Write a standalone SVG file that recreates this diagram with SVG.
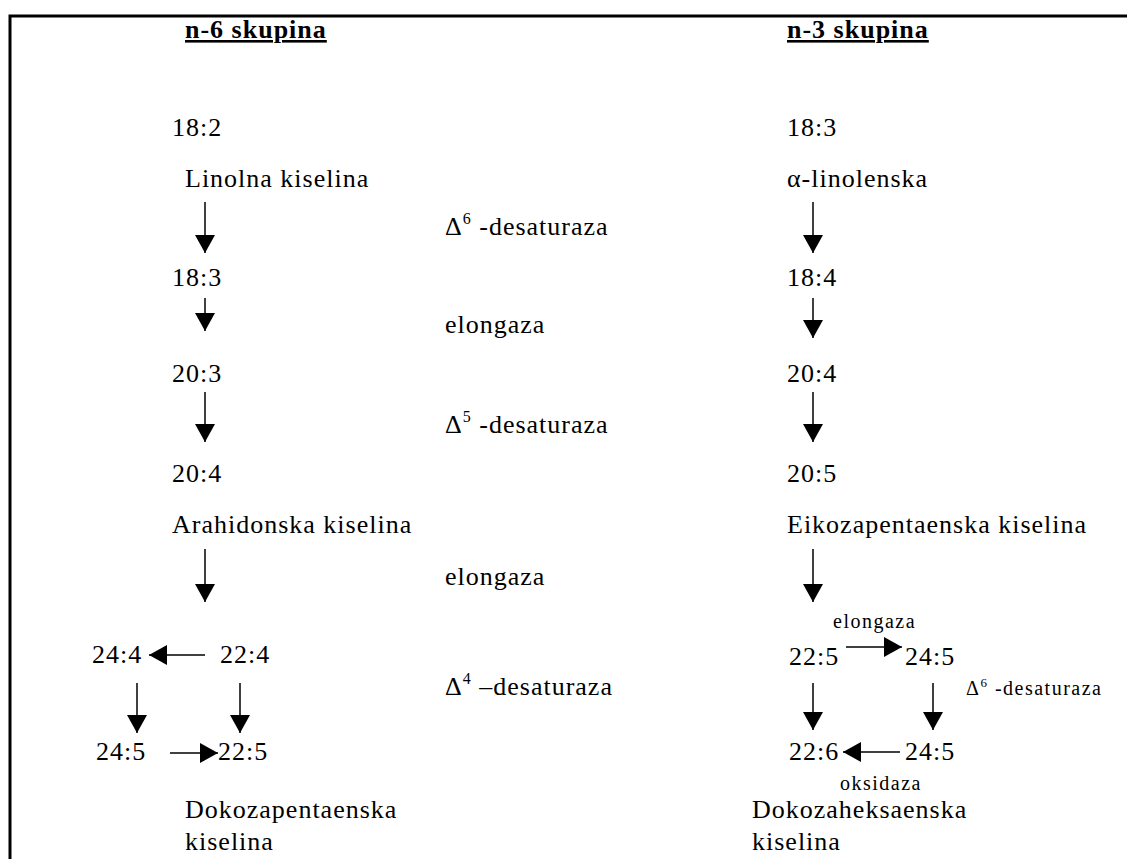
<svg xmlns="http://www.w3.org/2000/svg" width="1127" height="859" viewBox="0 0 1127 859">
<defs>
<style>
.t{font-family:"Liberation Serif","Times New Roman",serif;font-size:26px;letter-spacing:1px;fill:#000}
.s{font-family:"Liberation Serif","Times New Roman",serif;font-size:20px;letter-spacing:1.5px;fill:#000}
.h{font-family:"Liberation Serif","Times New Roman",serif;font-size:26px;letter-spacing:1px;font-weight:bold;fill:#000;text-decoration:underline}
.sup{font-size:16px}
.c{stroke:#000;stroke-width:1.5;fill:none;marker-end:url(#ah)}
</style>
<marker id="ah" viewBox="0 0 18 20" refX="18" refY="10" markerWidth="18" markerHeight="20" markerUnits="userSpaceOnUse" orient="auto">
<path d="M0,0 L18,10 L0,20 Z" fill="#000"/>
</marker>
</defs>
<rect width="1127" height="859" fill="#fff"/>
<path d="M10,859 L10,16 L1127,16" stroke="#000" stroke-width="3" fill="none"/>

<g id="titles">
<text id="n6" class="h" x="185" y="38">n-6 skupina</text>
<text id="n3" class="h" x="787" y="38">n-3 skupina</text>
</g>

<g id="enzymes">
<text id="e1" class="t" x="445" y="235">Δ<tspan class="sup" dy="-11">6</tspan><tspan dy="11"> -desaturaza</tspan></text>
<text id="e2" class="t" x="445" y="333">elongaza</text>
<text id="e3" class="t" x="445" y="433">Δ<tspan class="sup" dy="-11">5</tspan><tspan dy="11"> -desaturaza</tspan></text>
<text id="e4" class="t" x="445" y="585">elongaza</text>
<text id="e5" class="t" x="445" y="695">Δ<tspan class="sup" dy="-11">4</tspan><tspan dy="11"> –desaturaza</tspan></text>
</g>

<g id="n6-nodes">
<text id="a1" class="t" x="172" y="136">18:2</text>
<text id="a1n" class="t" x="185" y="187">Linolna kiselina</text>
<text id="a2" class="t" x="172" y="286">18:3</text>
<text id="a3" class="t" x="172" y="382">20:3</text>
<text id="a4" class="t" x="172" y="482">20:4</text>
<text id="a4n" class="t" x="172" y="533">Arahidonska kiselina</text>
<text id="a5" class="t" x="92" y="663">24:4</text>
<text id="a6" class="t" x="220" y="663">22:4</text>
<text id="a7" class="t" x="96" y="760">24:5</text>
<text id="a8" class="t" x="218" y="760">22:5</text>
<text id="a8n" class="t" x="185" y="818">Dokozapentaenska</text>
<text id="a8n2" class="t" x="185" y="850">kiselina</text>
</g>

<g id="n3-nodes">
<text id="b1" class="t" x="787" y="136">18:3</text>
<text id="b1n" class="t" x="787" y="187">α-linolenska</text>
<text id="b2" class="t" x="787" y="286">18:4</text>
<text id="b3" class="t" x="787" y="382">20:4</text>
<text id="b4" class="t" x="787" y="482">20:5</text>
<text id="b4n" class="t" x="787" y="533">Eikozapentaenska kiselina</text>
<text id="bl1" class="s" x="833" y="628">elongaza</text>
<text id="b5" class="t" x="789" y="665">22:5</text>
<text id="b6" class="t" x="905" y="665">24:5</text>
<text id="bl2" class="s" x="966" y="695">Δ<tspan style="font-size:13px" dy="-8">6</tspan><tspan dy="8"> -desaturaza</tspan></text>
<text id="b7" class="t" x="789" y="760">22:6</text>
<text id="b8" class="t" x="905" y="760">24:5</text>
<text id="bl3" class="s" x="840" y="790">oksidaza</text>
<text id="b8n" class="t" x="752" y="818">Dokozaheksaenska</text>
<text id="b8n2" class="t" x="752" y="850">kiselina</text>
</g>

<g id="connectors">
<line class="c" x1="205" y1="202" x2="205" y2="253"/>
<line class="c" x1="205" y1="298" x2="205" y2="331"/>
<line class="c" x1="205" y1="392" x2="205" y2="442"/>
<line class="c" x1="205" y1="549" x2="205" y2="602"/>
<line class="c" x1="813" y1="202" x2="813" y2="253"/>
<line class="c" x1="813" y1="298" x2="813" y2="338"/>
<line class="c" x1="813" y1="392" x2="813" y2="442"/>
<line class="c" x1="813" y1="549" x2="813" y2="602"/>
<line class="c" x1="205" y1="655" x2="149" y2="655"/>
<line class="c" x1="137" y1="683" x2="137" y2="733"/>
<line class="c" x1="240" y1="683" x2="240" y2="733"/>
<line class="c" x1="170" y1="753" x2="218" y2="753"/>
<line class="c" x1="846" y1="647" x2="902" y2="647"/>
<line class="c" x1="813" y1="683" x2="813" y2="730"/>
<line class="c" x1="933" y1="683" x2="933" y2="730"/>
<line class="c" x1="900" y1="752" x2="843" y2="752"/>
</g>
</svg>
